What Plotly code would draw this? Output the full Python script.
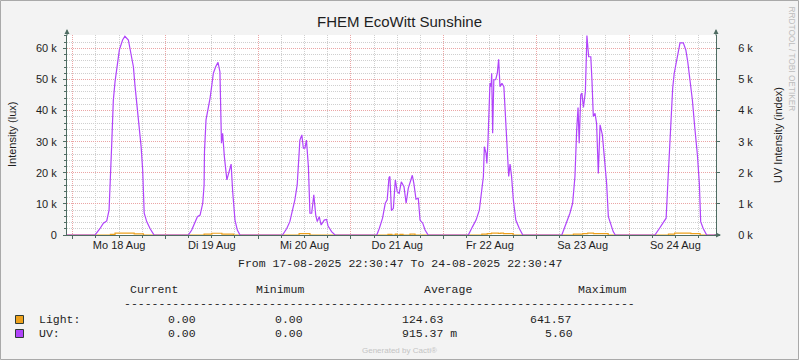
import plotly.graph_objects as go

# ---------------- data ----------------
start_time = "2025-08-17 22:30:47"
end_time = "2025-08-24 22:30:47"

day_midnights = ["2025-08-18", "2025-08-19", "2025-08-20", "2025-08-21",
                 "2025-08-22", "2025-08-23", "2025-08-24"]
day_noons = ["2025-08-18 12:00", "2025-08-19 12:00", "2025-08-20 12:00", "2025-08-21 12:00",
             "2025-08-22 12:00", "2025-08-23 12:00", "2025-08-24 12:00"]
day_labels = ["Mo 18 Aug", "Di 19 Aug", "Mi 20 Aug", "Do 21 Aug",
              "Fr 22 Aug", "Sa 23 Aug", "So 24 Aug"]

left_tick_vals = [0, 10000, 20000, 30000, 40000, 50000, 60000]
left_tick_text = ["0", "10 k", "20 k", "30 k", "40 k", "50 k", "60 k"]
right_tick_vals = [0, 1000, 2000, 3000, 4000, 5000, 6000]
right_tick_text = ["0 k", "1 k", "2 k", "3 k", "4 k", "5 k", "6 k"]

# purple series (UV, drawn on the lux scale)
uv_time = [
    start_time,
    "2025-08-18 05:46", "2025-08-18 07:04", "2025-08-18 07:56", "2025-08-18 08:48", "2025-08-18 09:24",
    "2025-08-18 10:06", "2025-08-18 10:30", "2025-08-18 10:57", "2025-08-18 11:33", "2025-08-18 12:04",
    "2025-08-18 12:54", "2025-08-18 13:30", "2025-08-18 14:24", "2025-08-18 15:06", "2025-08-18 15:42",
    "2025-08-18 16:06", "2025-08-18 16:42", "2025-08-18 17:15", "2025-08-18 17:42", "2025-08-18 18:06",
    "2025-08-18 18:30", "2025-08-18 19:09", "2025-08-18 20:00", "2025-08-18 21:03",
    "2025-08-19 05:56", "2025-08-19 06:48", "2025-08-19 07:40", "2025-08-19 08:16", "2025-08-19 08:58",
    "2025-08-19 09:39", "2025-08-19 10:00", "2025-08-19 10:06", "2025-08-19 10:30", "2025-08-19 11:06",
    "2025-08-19 11:33", "2025-08-19 12:00", "2025-08-19 12:24", "2025-08-19 13:00", "2025-08-19 13:36",
    "2025-08-19 14:06", "2025-08-19 14:30", "2025-08-19 14:48", "2025-08-19 15:15", "2025-08-19 15:54",
    "2025-08-19 16:18", "2025-08-19 17:00", "2025-08-19 17:24", "2025-08-19 18:00", "2025-08-19 18:36",
    "2025-08-19 19:18",
    "2025-08-20 06:18", "2025-08-20 07:24", "2025-08-20 08:12", "2025-08-20 08:48", "2025-08-20 09:30",
    "2025-08-20 10:06", "2025-08-20 10:30", "2025-08-20 10:48", "2025-08-20 11:18", "2025-08-20 11:42",
    "2025-08-20 12:06", "2025-08-20 12:30", "2025-08-20 13:00", "2025-08-20 13:24", "2025-08-20 13:51",
    "2025-08-20 14:24", "2025-08-20 14:54", "2025-08-20 15:18", "2025-08-20 15:48", "2025-08-20 16:18",
    "2025-08-20 17:06", "2025-08-20 17:42", "2025-08-20 18:06", "2025-08-20 19:00", "2025-08-20 19:54",
    "2025-08-21 06:42", "2025-08-21 07:21", "2025-08-21 08:12", "2025-08-21 08:54", "2025-08-21 09:24",
    "2025-08-21 09:52", "2025-08-21 10:06", "2025-08-21 10:30", "2025-08-21 11:00", "2025-08-21 11:30",
    "2025-08-21 12:00", "2025-08-21 12:30", "2025-08-21 13:03", "2025-08-21 13:45", "2025-08-21 14:18",
    "2025-08-21 14:51", "2025-08-21 15:30", "2025-08-21 15:54", "2025-08-21 16:18", "2025-08-21 16:51",
    "2025-08-21 17:27", "2025-08-21 17:54", "2025-08-21 18:36", "2025-08-21 19:12", "2025-08-21 20:00",
    "2025-08-22 06:24", "2025-08-22 07:30", "2025-08-22 08:24", "2025-08-22 09:15", "2025-08-22 09:52",
    "2025-08-22 10:18", "2025-08-22 10:33", "2025-08-22 11:00", "2025-08-22 11:12", "2025-08-22 11:30",
    "2025-08-22 12:00", "2025-08-22 12:18", "2025-08-22 12:27", "2025-08-22 12:42", "2025-08-22 13:00",
    "2025-08-22 13:30", "2025-08-22 13:54", "2025-08-22 14:15", "2025-08-22 14:36", "2025-08-22 15:06",
    "2025-08-22 15:36", "2025-08-22 16:06", "2025-08-22 16:30", "2025-08-22 16:51", "2025-08-22 17:12",
    "2025-08-22 17:36", "2025-08-22 18:03", "2025-08-22 18:42", "2025-08-22 19:36", "2025-08-22 20:30",
    "2025-08-23 06:36", "2025-08-23 07:51", "2025-08-23 08:42", "2025-08-23 09:24", "2025-08-23 10:00",
    "2025-08-23 10:27", "2025-08-23 10:48", "2025-08-23 11:06", "2025-08-23 11:30", "2025-08-23 11:48",
    "2025-08-23 12:12", "2025-08-23 12:42", "2025-08-23 13:06", "2025-08-23 13:33", "2025-08-23 14:06",
    "2025-08-23 14:24", "2025-08-23 14:45", "2025-08-23 15:12", "2025-08-23 15:36", "2025-08-23 16:03",
    "2025-08-23 16:30", "2025-08-23 17:06", "2025-08-23 17:36", "2025-08-23 18:12", "2025-08-23 18:39",
    "2025-08-23 19:15", "2025-08-23 19:54", "2025-08-23 20:27",
    "2025-08-24 06:42", "2025-08-24 07:51", "2025-08-24 08:54", "2025-08-24 09:36", "2025-08-24 10:00",
    "2025-08-24 10:24", "2025-08-24 10:54", "2025-08-24 11:18", "2025-08-24 11:42", "2025-08-24 12:12",
    "2025-08-24 12:36", "2025-08-24 13:12", "2025-08-24 14:03", "2025-08-24 14:42", "2025-08-24 15:12",
    "2025-08-24 15:48", "2025-08-24 16:24", "2025-08-24 17:00", "2025-08-24 17:42", "2025-08-24 18:12",
    "2025-08-24 18:33", "2025-08-24 19:12", "2025-08-24 20:06",
    end_time,
]
uv_value = [
    0,
    0, 2100, 3800, 4500, 8000,
    29500, 43200, 49300, 55200, 59500,
    62700, 63900, 62700, 57900, 54100,
    48200, 41300, 34800, 28400, 20900,
    7000, 4300, 2100, 0,
    0, 1600, 4300, 5900, 6400,
    10200, 16100, 26800, 37000, 40700,
    44000, 48200, 52000, 54100, 55500,
    52500, 29500, 32700, 25200, 17700,
    19800, 22800, 13900, 4800, 1600,
    0,
    0, 2100, 4300, 7500, 11300,
    16100, 24100, 30500, 32200, 27900,
    27900, 30500, 22000, 7000, 7000,
    12900, 6400, 4300, 5900, 3200,
    4800, 5000, 2900, 1100, 0,
    0, 2100, 5400, 10200, 11300,
    18500, 18800, 7800, 8600, 17700,
    13900, 13400, 17100, 15500, 10200,
    15000, 17700, 19200, 16600, 11500,
    11800, 4800, 3800, 1600, 0,
    0, 2700, 4800, 8000, 13400,
    18800, 28400, 26200, 23000, 30500,
    48800, 47700, 52000, 32700, 49900,
    50000, 52000, 56500, 47700, 48800,
    47700, 37000, 25200, 18800, 22800,
    18800, 11300, 4800, 2100, 0,
    0, 4300, 7000, 10200, 18800,
    33800, 41000, 29500, 45000, 45600,
    41000, 46100, 64157, 57300, 57300,
    49900, 38100, 39100, 35900, 19800,
    35400, 32200, 24100, 16600, 5900,
    3800, 1100, 0,
    0, 2100, 4300, 5400, 15500,
    26200, 39100, 47200, 52000, 55700,
    58400, 61800, 61800, 59500, 55700,
    50400, 43400, 34800, 25700, 16600,
    4300, 2100, 0,
    0,
]

# orange series (Light, lux), stepped
light_time = [
    start_time,
    "2025-08-18 09:45", "2025-08-18 10:57", "2025-08-18 15:54", "2025-08-18 18:18",
    "2025-08-19 10:00", "2025-08-19 12:00", "2025-08-19 14:36", "2025-08-19 17:36",
    "2025-08-20 10:36", "2025-08-20 13:24",
    "2025-08-21 09:36", "2025-08-21 10:36", "2025-08-21 11:30", "2025-08-21 12:00",
    "2025-08-21 12:42", "2025-08-21 13:30", "2025-08-21 15:18", "2025-08-21 16:36",
    "2025-08-22 09:54", "2025-08-22 11:18", "2025-08-22 12:24", "2025-08-22 14:12",
    "2025-08-22 14:48", "2025-08-22 15:30", "2025-08-22 18:00",
    "2025-08-23 09:36", "2025-08-23 12:00", "2025-08-23 13:18", "2025-08-23 14:48", "2025-08-23 18:36",
    "2025-08-24 10:12", "2025-08-24 11:48", "2025-08-24 16:00", "2025-08-24 18:24",
    end_time,
]
light_value = [
    0,
    200, 580, 330, 0,
    250, 560, 300, 0,
    420, 0,
    220, 0, 250, 0,
    220, 0, 260, 0,
    300, 450, 620, 500,
    620, 450, 0,
    300, 450, 620, 450, 0,
    300, 600, 420, 0,
    0,
]

stat_headers = ["Current", "Minimum", "Average", "Maximum"]
series_names = ["Light:", "UV:"]
light_stats = ["0.00", "0.00", "124.63", "641.57"]
uv_stats = ["0.00", "0.00", "915.37 m", "5.60"]

# ---------------- style ----------------
W, H = 799, 360
L, R, T, B = 67, 716, 35, 235  # plot area in pixels
PW, PH = R - L, B - T

def xp(px):
    return (px - L) / PW

def yp(py):
    return (B - py) / PH

PURPLE = "#B044FA"
ORANGE = "#EEA11C"
AXIS = "#4E6C62"
MAJOR = "#EBA5A5"
MINOR = "#CFCFCF"
TXT = "#1E1E1E"
SANS = "Liberation Sans, Arial, sans-serif"
MONO = "Liberation Mono, Courier New, monospace"

fig = go.Figure()
fig.add_trace(go.Scatter(x=light_time, y=light_value, mode="lines",
                         line=dict(color=ORANGE, width=1.2, shape="hv"), xaxis="x", yaxis="y",
                         hoverinfo="skip", showlegend=False))
fig.add_trace(go.Scatter(x=uv_time, y=uv_value, mode="lines",
                         line=dict(color=PURPLE, width=1.2), xaxis="x", yaxis="y",
                         hoverinfo="skip", showlegend=False))
fig.add_trace(go.Scatter(x=[], y=[], mode="lines", xaxis="x2", yaxis="y",
                         hoverinfo="skip", showlegend=False))
fig.add_trace(go.Scatter(x=[], y=[], mode="lines", xaxis="x", yaxis="y2",
                         hoverinfo="skip", showlegend=False))

six_hours = 6 * 3600 * 1000

fig.update_layout(
    width=W, height=H,
    margin=dict(l=L, r=W - R, t=T, b=H - B),
    paper_bgcolor="#F3F3F3",
    plot_bgcolor="#FFFFFF",
    showlegend=False,
    hovermode=False,
    title=dict(text="FHEM EcoWitt Sunshine", x=0.5, xref="container", xanchor="center",
               y=1 - 22 / H, yref="container", yanchor="middle",
               font=dict(family=SANS, size=15, color=TXT)),
    xaxis=dict(
        type="date", range=[start_time, end_time],
        tickmode="array", tickvals=day_midnights, showticklabels=False,
        showgrid=True, gridcolor=MAJOR, griddash="1px,1px", gridwidth=1,
        ticks="outside", ticklen=3, tickcolor=AXIS,
        minor=dict(tickmode="linear", tick0=day_midnights[0], dtick=six_hours,
                   showgrid=True, gridcolor=MINOR, griddash="1px,1px",
                   ticks="outside", ticklen=2, tickcolor=AXIS),
        showline=True, linecolor=AXIS, linewidth=1, zeroline=False,
    ),
    xaxis2=dict(
        type="date", range=[start_time, end_time], overlaying="x", anchor="y", side="bottom",
        tickmode="array", tickvals=day_noons, ticktext=day_labels,
        showgrid=False, showline=False, ticks="", zeroline=False,
        tickfont=dict(family=SANS, size=11, color=TXT), ticklabelstandoff=2,
    ),
    yaxis=dict(
        range=[0, 64300], tickmode="array", tickvals=left_tick_vals, ticktext=left_tick_text,
        showgrid=True, gridcolor=MAJOR, griddash="1px,1px",
        ticks="outside", ticklen=3, tickcolor=AXIS,
        minor=dict(tickmode="linear", tick0=0, dtick=2000, showgrid=True,
                   gridcolor=MINOR, griddash="1px,1px", ticks="outside", ticklen=2, tickcolor=AXIS),
        showline=True, linecolor=AXIS, linewidth=1, zeroline=False,
        tickfont=dict(family=SANS, size=11, color=TXT), ticklabelstandoff=4,
    ),
    yaxis2=dict(
        range=[0, 6430], overlaying="y", side="right", anchor="x",
        tickmode="array", tickvals=right_tick_vals, ticktext=right_tick_text,
        showgrid=False, zeroline=False, showline=True, linecolor=AXIS, linewidth=1,
        ticks="outside", ticklen=3, tickcolor=AXIS,
        tickfont=dict(family=SANS, size=11, color=TXT), ticklabelstandoff=16,
    ),
)

ann = []
# axis titles
ann.append(dict(text="Intensity (lux)", xref="paper", yref="paper", x=xp(12), y=0.5,
                textangle=-90, showarrow=False, xanchor="center", yanchor="middle",
                font=dict(family=SANS, size=11, color=TXT)))
ann.append(dict(text="UV Intensity (index)", xref="paper", yref="paper", x=xp(778), y=0.5,
                textangle=-90, showarrow=False, xanchor="center", yanchor="middle",
                font=dict(family=SANS, size=11, color=TXT)))
ann.append(dict(text="RRDTOOL / TOBI OETIKER", xref="paper", yref="paper", x=xp(791), y=yp(4),
                textangle=90, showarrow=False, xanchor="center", yanchor="top",
                font=dict(family=SANS, size=8.3, color="#BDBDBD")))
# axis arrows
ann.append(dict(text="", xref="paper", yref="paper", x=0, y=yp(29), ax=0, ay=8,
                showarrow=True, arrowhead=2, arrowsize=1, arrowwidth=1, arrowcolor=AXIS))
ann.append(dict(text="", xref="paper", yref="paper", x=1, y=yp(29), ax=0, ay=8,
                showarrow=True, arrowhead=2, arrowsize=1, arrowwidth=1, arrowcolor=AXIS))
ann.append(dict(text="", xref="paper", yref="paper", x=xp(721), y=0, ax=-8, ay=0,
                showarrow=True, arrowhead=2, arrowsize=1, arrowwidth=1, arrowcolor=AXIS))
# period line
ann.append(dict(text="From 17-08-2025 22:30:47 To 24-08-2025 22:30:47", xref="paper", yref="paper",
                x=xp(400), y=yp(263), showarrow=False, xanchor="center", yanchor="middle",
                font=dict(family=MONO, size=11.5, color=TXT)))
# legend table
header_left = [128, 254, 422, 576]
for txt, px in zip(stat_headers, header_left):
    ann.append(dict(text=txt, xref="paper", yref="paper", x=xp(px), y=yp(289.5), showarrow=False,
                    xanchor="left", yanchor="middle",
                    font=dict(family=MONO, size=11.5, color=TXT)))
ann.append(dict(text="-" * 74, xref="paper", yref="paper", x=xp(122), y=yp(303.5), showarrow=False,
                xanchor="left", yanchor="middle",
                font=dict(family=MONO, size=11.5, color=TXT)))
row_y = [319, 333]
row_left = [[166, 273, 400, 528], [166, 273, 400, 543]]
for name, stats, py, lefts in zip(series_names, [light_stats, uv_stats], row_y, row_left):
    ann.append(dict(text=name, xref="paper", yref="paper", x=xp(37), y=yp(py), showarrow=False,
                    xanchor="left", yanchor="middle", font=dict(family=MONO, size=11.5, color=TXT)))
    for s, px in zip(stats, lefts):
        ann.append(dict(text=s, xref="paper", yref="paper", x=xp(px), y=yp(py), showarrow=False,
                        xanchor="left", yanchor="middle", font=dict(family=MONO, size=11.5, color=TXT)))
ann.append(dict(text="Generated by Cacti®", xref="paper", yref="paper", x=xp(399), y=yp(350),
                showarrow=False, xanchor="center", yanchor="middle",
                font=dict(family=SANS, size=8, color="#C4C4C4")))
fig.update_layout(annotations=ann)

shapes = []
# outer frame
shapes.append(dict(type="rect", xref="paper", yref="paper", x0=xp(0.5), x1=xp(798.5),
                   y0=yp(359.5), y1=yp(0.5), line=dict(color="#A9A9A9", width=1)))
# legend swatches
for color, top in zip([ORANGE, PURPLE], [315.5, 329.5]):
    shapes.append(dict(type="rect", xref="paper", yref="paper", x0=xp(15.5), x1=xp(23.5),
                       y0=yp(top + 8), y1=yp(top), fillcolor=color,
                       line=dict(color="#2E3B36", width=1)))
fig.update_layout(shapes=shapes)

fig.write_html("out.html", config={"displayModeBar": False},
               post_script="document.body.style.margin='0';document.body.style.padding='0';"
                           "document.documentElement.style.overflow='hidden';")
